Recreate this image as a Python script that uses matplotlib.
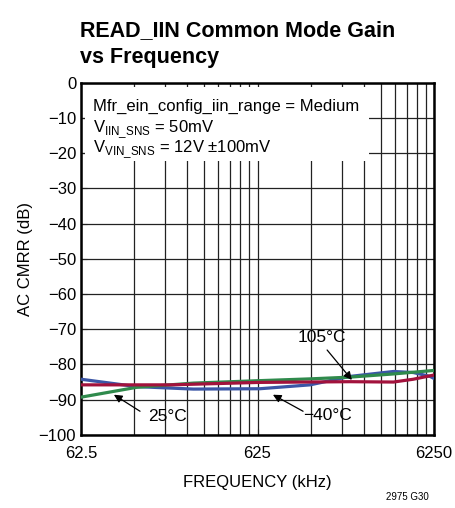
import numpy as np
import matplotlib
matplotlib.use('Agg')
import matplotlib.pyplot as plt
from matplotlib.patches import Rectangle

plt.rcParams['font.family'] = ['Liberation Sans Narrow', 'Liberation Sans', 'DejaVu Sans']
plt.rcParams['axes.unicode_minus'] = True

# data (kHz, dB)
f_m40 = [62.5, 129, 271, 645, 1240, 2090, 3680, 4770, 5930, 6250]
cmrr_m40 = [-84.2, -86.3, -87.0, -86.9, -85.8, -83.4, -82.0, -82.3, -83.4, -84.0]

f_25 = [62.5, 129, 271, 645, 1240, 2090, 3680, 6250]
cmrr_25 = [-89.3, -86.5, -85.3, -84.6, -84.1, -83.6, -82.7, -81.7]

f_105 = [62.5, 200, 645, 2090, 3680, 4770, 6250]
cmrr_105 = [-85.8, -85.8, -85.1, -84.9, -85.0, -84.2, -83.0]

fig = plt.figure(figsize=(4.55, 5.08), dpi=100)
ax = fig.add_axes([0.178, 0.144, 0.776, 0.693])

ax.set_xscale('log')
ax.set_xlim(62.5, 6250)
ax.set_ylim(-100, 0)
ax.set_xticks([62.5, 625, 6250])
ax.set_xticklabels(['62.5', '625', '6250'])
ax.set_xticks([62.5 * k for k in range(2, 10)] + [625 * k for k in range(2, 10)], minor=True)
ax.xaxis.set_minor_formatter(matplotlib.ticker.NullFormatter())
ax.set_yticks(np.arange(-100, 1, 10))
ax.set_yticklabels(['0' if v == 0 else '\u2212%d' % -v for v in range(-100, 1, 10)])

ax.grid(True, which='both', color='#222222', linewidth=0.9)
ax.set_axisbelow(True)
ax.tick_params(which='both', direction='in', length=4, labelsize=12, color='#222222')
ax.tick_params(axis='x', pad=8)
for s in ax.spines.values():
    s.set_linewidth(1.8)

ax.add_patch(Rectangle((0.012, 0.778), 0.804, 0.21, transform=ax.transAxes,
                       facecolor='white', edgecolor='none', zorder=1))

ax.plot(f_m40, cmrr_m40, color='#3b56a6', lw=2.3, zorder=3)
ax.plot(f_25, cmrr_25, color='#2f8a4c', lw=2.3, zorder=3)
ax.plot(f_105, cmrr_105, color='#a2123c', lw=2.3, zorder=4)

ax.text(0.035, 0.955, 'Mfr_ein_config_iin_range = Medium', transform=ax.transAxes,
        fontsize=12, va='top', zorder=5)
ax.text(0.035, 0.897, r'V$_{\mathregular{IIN\_SNS}}$ = 50mV', transform=ax.transAxes,
        fontsize=12, va='top', zorder=5)
ax.text(0.035, 0.84, r'V$_{\mathregular{VIN\_SNS}}$ = 12V ±100mV', transform=ax.transAxes,
        fontsize=12, va='top', zorder=5)

arrow = dict(arrowstyle='-|>', color='black', lw=0.9, mutation_scale=12, shrinkA=0, shrinkB=0)
ax.text(1450, -72.4, '105°C', fontsize=12.5, ha='center', va='center', zorder=6)
ax.annotate('', xy=(2140, -84.4), xytext=(1549, -75.9), arrowprops=arrow, zorder=6)
ax.text(192, -94.9, '25°C', fontsize=12.5, ha='center', va='center', zorder=6)
ax.annotate('', xy=(96, -88.6), xytext=(135, -93.3), arrowprops=arrow, zorder=6)
ax.text(1549, -94.6, '\u221240°C', fontsize=12.5, ha='center', va='center', zorder=6)
ax.annotate('', xy=(764, -88.6), xytext=(1132, -93.3), arrowprops=arrow, zorder=6)

ax.set_xlabel('FREQUENCY (kHz)', fontsize=12, labelpad=10)
ax.set_ylabel('AC CMRR (dB)', fontsize=12, labelpad=4)

fig.text(0.176, 0.866, 'READ_IIN Common Mode Gain\nvs Frequency', fontsize=15.5,
         fontweight='bold', ha='left', va='bottom', linespacing=1.4)
fig.text(0.895, 0.012, '2975 G30', fontsize=7, ha='center', va='bottom')

fig.savefig('out.png', dpi=100)
